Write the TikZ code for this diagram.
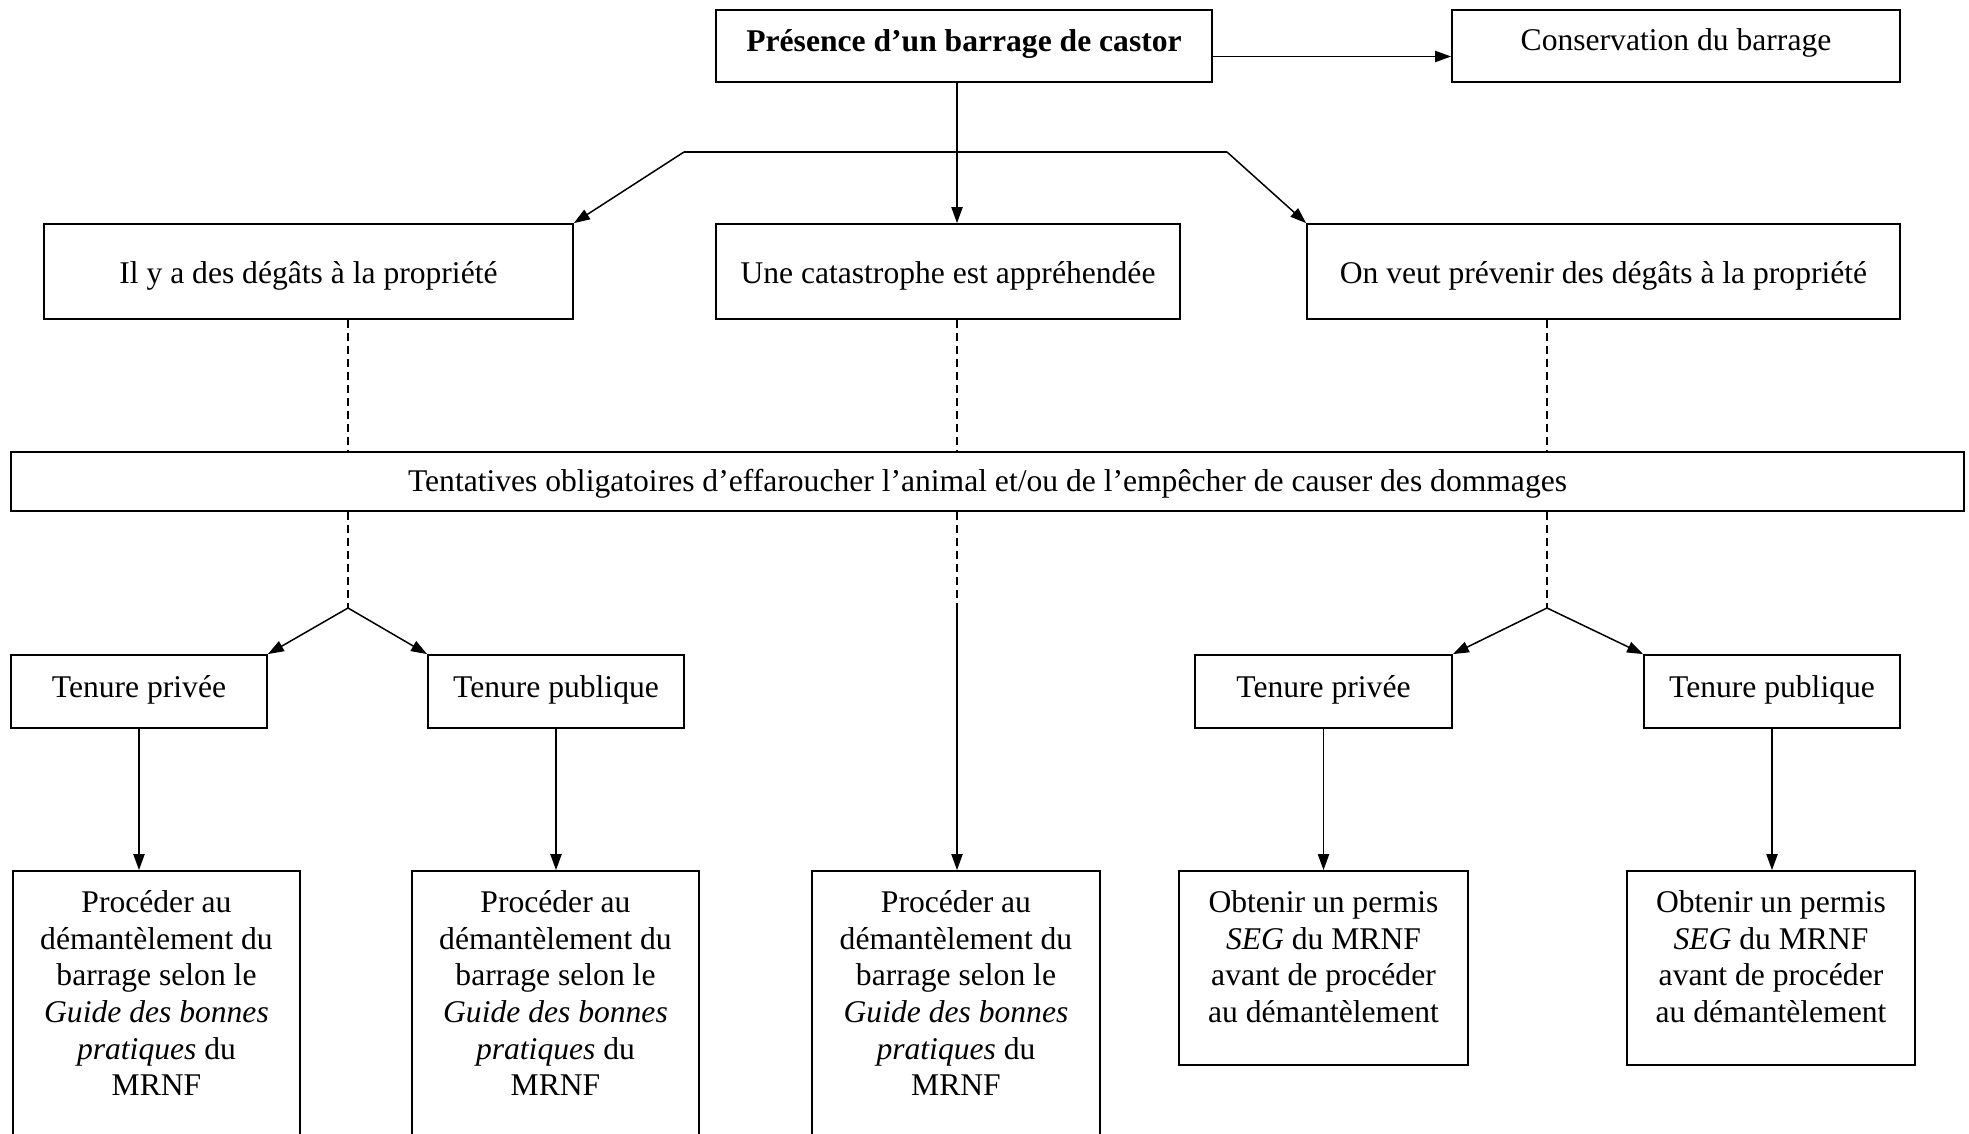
\documentclass[tikz,border=0pt]{standalone}
\usepackage{fontspec}
\setmainfont{Liberation Serif}
\usetikzlibrary{arrows.meta,calc}
\newcommand\bxt[4]{\begin{minipage}[c][#2][t]{#1}\centering\rule{0pt}{#3}#4\end{minipage}}
\begin{document}
\begin{tikzpicture}[x=0.5pt,y=-0.5pt,
 box/.style={draw,line width=0.9pt,inner sep=0pt,font=\fontsize{15.8pt}{18.3pt}\selectfont},
 conn/.style={line width=0.75pt},
 arr/.style={conn,-{Triangle[length=8pt,width=5.6pt]}},
 dsh/.style={conn,dash pattern=on 4pt off 2.5pt}]
\useasboundingbox (0,0) rectangle (1969,1134);
\clip (0,0) rectangle (1969,1134);
% boxes
\node[box] (pres) at (964,46) {\bxt{248pt}{36pt}{21pt}{\textbf{Présence d’un barrage de castor}}};
\node[box] (cons) at (1676,46) {\bxt{224pt}{36pt}{20.5pt}{Conservation du barrage}};
\node[box] (il) at (308.5,271.5) {\bxt{264.5pt}{47.5pt}{29.9pt}{Il y a des dégâts à la propriété}};
\node[box] (cat) at (948,271.5) {\bxt{232pt}{47.5pt}{29.9pt}{Une catastrophe est appréhendée}};
\node[box] (veut) at (1603.5,271.5) {\bxt{296.5pt}{47.5pt}{29.9pt}{On veut prévenir des dégâts à la propriété}};
\node[box] (tent) at (987.5,481.5) {\bxt{976.5pt}{29.5pt}{19.5pt}{Tentatives obligatoires d’effaroucher l’animal et/ou de l’empêcher de causer des dommages}};
\node[box] (t1) at (139,691.5) {\bxt{128pt}{36.5pt}{21pt}{Tenure privée}};
\node[box] (t2) at (556,691.5) {\bxt{128pt}{36.5pt}{21pt}{Tenure publique}};
\node[box] (t3) at (1323.5,691.5) {\bxt{128.5pt}{36.5pt}{21pt}{Tenure privée}};
\node[box] (t4) at (1772,691.5) {\bxt{128pt}{36.5pt}{21pt}{Tenure publique}};
\node[box] (b1) at (156.5,1010.5) {\bxt{143.5pt}{139.5pt}{20.8pt}{Procéder au\\démantèlement du\\barrage selon le\\\textit{Guide des bonnes}\\\textit{pratiques} du\\MRNF}};
\node[box] (b2) at (555.5,1010.5) {\bxt{143.5pt}{139.5pt}{20.8pt}{Procéder au\\démantèlement du\\barrage selon le\\\textit{Guide des bonnes}\\\textit{pratiques} du\\MRNF}};
\node[box] (b3) at (956,1010.5) {\bxt{144pt}{139.5pt}{20.8pt}{Procéder au\\démantèlement du\\barrage selon le\\\textit{Guide des bonnes}\\\textit{pratiques} du\\MRNF}};
\node[box] (b4) at (1323.5,968) {\bxt{144.5pt}{97pt}{20.8pt}{Obtenir un permis\\\textit{SEG} du MRNF\\avant de procéder\\au démantèlement}};
\node[box] (b5) at (1771,968) {\bxt{144pt}{97pt}{20.8pt}{Obtenir un permis\\\textit{SEG} du MRNF\\avant de procéder\\au démantèlement}};
% junction coordinates
\coordinate (j) at (957,152);
\coordinate (hl) at (684,152);
\coordinate (hr) at (1227,152);
\coordinate (s1) at (348,608);
\coordinate (s0) at (957,608);
\coordinate (s2) at (1547,608);
% connectors
\draw[arr] ([yshift=-5.25pt]pres.east) -- ([yshift=-5.25pt]cons.west);
\draw[arr] (pres.south -| j) -- (cat.north -| j);
\draw[conn] (hl) -- (hr);
\draw[arr] (hl) -- (il.north east);
\draw[arr] (hr) -- (veut.north west);
\draw[dsh] (il.south -| s1) -- (tent.north -| s1);
\draw[dsh] (cat.south -| s0) -- (tent.north -| s0);
\draw[dsh] (veut.south -| s2) -- (tent.north -| s2);
\draw[dsh] (tent.south -| s1) -- (s1);
\draw[dsh] (tent.south -| s0) -- (s0);
\draw[dsh] (tent.south -| s2) -- (s2);
\draw[arr] (s1) -- (t1.north east);
\draw[arr] (s1) -- (t2.north west);
\draw[arr] (s2) -- (t3.north east);
\draw[arr] (s2) -- (t4.north west);
\draw[arr] (s0) -- (b3.north -| s0);
\draw[arr] (t1.south) -- (t1.south |- b1.north);
\draw[arr] (t2.south) -- (t2.south |- b2.north);
\draw[arr] (t3.south) -- (t3.south |- b4.north);
\draw[arr] (t4.south) -- (t4.south |- b5.north);
\end{tikzpicture}
\end{document}
